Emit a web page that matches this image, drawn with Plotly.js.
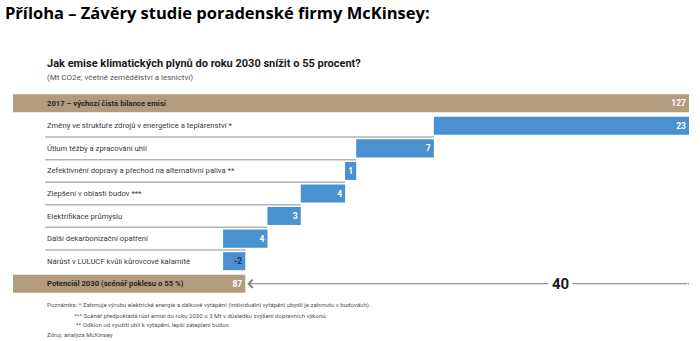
<!DOCTYPE html>
<html>
<head>
<meta charset="utf-8">
<script src="https://cdn.plot.ly/plotly-3.0.1.min.js"></script>
<style>
html,body{margin:0;padding:0;background:#fff;}
#chart{width:700px;height:341px;}
</style>
</head>
<body>
<div id="chart"></div>
<script>
// ---- data ----
const categories = [
  '2017 – výchozí čistá bilance emisí',
  'Změny ve struktuře zdrojů v energetice a teplárenství *',
  'Útlum těžby a zpracování uhlí',
  'Zefektivnění dopravy a přechod na alternativní paliva **',
  'Zlepšení v oblasti budov ***',
  'Elektrifikace průmyslu',
  'Další dekarbonizační opatření',
  'Nárůst v LULUCF kvůli kůrovcové kalamitě',
  'Potenciál 2030 (scénář poklesu o 55 %)'
];
const startValue = 127;
const stepValues = [23, 7, 1, 4, 3, 4, -2];
const endValue = 87;
const pageTitle = 'Příloha – Závěry studie poradenské firmy McKinsey:';
const chartTitle = 'Jak emise klimatických plynů do roku 2030 snížit o 55 procent?';
const chartSubtitle = '(Mt CO2e; včetně zemědělství a lesnictví)';
const footnotes = [
  'Poznámka: * Zahrnuje výrobu elektrické energie a dálkové vytápění (individuální vytápění obydlí je zahrnuto v budovách).',
  '*** Scénář předpokládá růst emisí do roku 2030 o 3 Mt v důsledku zvýšení dopravních výkonů.',
  '** Odklon od využití uhlí k vytápění, lepší zateplení budov.',
  'Zdroj: analýza McKinsey'
];

// ---- styles / layout helpers ----
const W = 700, H = 341;
const M = {l: 13, r: 11, t: 92, b: 46};
const plotW = W - M.l - M.r, plotH = H - M.t - M.b;
const px = x => (x - M.l) / plotW;
const py = y => (H - M.b - y) / plotH;
const xr = [66.06, 127];
const toData = p => xr[0] + p * (xr[1] - xr[0]);
const brown = '#b29c7e', blue = '#4a91d2';
const FONT = 'Roboto, Inter, sans-serif';
const labelX = px(45);

const n = categories.length;
let level = startValue;
const stepBase = [], stepLen = [], stepY = [];
stepValues.forEach((v, i) => {
  const next = level - v;
  stepBase.push(Math.min(level, next));
  stepLen.push(Math.abs(v));
  stepY.push(i + 1);
  level = next;
});

const totals = {
  type: 'bar', orientation: 'h',
  y: [0, n - 1], x: [startValue, endValue], base: [0, 0],
  width: 0.8,
  marker: {color: brown, line: {width: 0}},
  text: [String(startValue), String(endValue)],
  textposition: 'inside', insidetextanchor: 'end', constraintext: 'none',
  textfont: {family: FONT, size: 8.5, color: '#ffffff', weight: 700},
  hoverinfo: 'skip', showlegend: false
};
const steps = {
  type: 'bar', orientation: 'h',
  y: stepY, x: stepLen, base: stepBase,
  width: 0.8,
  marker: {color: blue, line: {width: 0}},
  text: stepValues.map(String),
  textposition: 'inside', insidetextanchor: 'end', constraintext: 'none',
  textfont: {family: FONT, size: 8.5, weight: 700,
    color: stepValues.map(v => v < 0 ? '#1c2b40' : '#ffffff')},
  hoverinfo: 'skip', showlegend: false
};

// separator lines under step rows
const shapes = [];
for (let i = 1; i < stepValues.length; i++) {
  const right = stepBase[i] + stepLen[i];
  shapes.push({type: 'line', xref: 'x', yref: 'y',
    x0: toData(labelX), x1: right, y0: i + 0.5, y1: i + 0.5,
    line: {color: '#b4b4b4', width: 1.5}, layer: 'below'});
}
// small end tick of the gap line
shapes.push({type: 'line', xref: 'x', yref: 'y', x0: startValue, x1: startValue,
  y0: n - 1 - 0.06, y1: n - 1 + 0.06, line: {color: '#7a7a7a', width: 1}});

const annotations = [];
categories.forEach((c, i) => {
  const isTotal = (i === 0 || i === n - 1);
  annotations.push({xref: 'paper', yref: 'y', x: labelX, y: i,
    xanchor: 'left', yanchor: 'middle', showarrow: false, text: c,
    font: {family: FONT, size: 7.7, color: isTotal ? '#2a2520' : '#3a3a3a', weight: isTotal ? 700 : 400}});
});
annotations.push({xref: 'paper', yref: 'paper', x: labelX, y: py(64),
  xanchor: 'left', yanchor: 'middle', showarrow: false, text: chartTitle,
  font: {family: FONT, size: 11, color: '#1a1a1a', weight: 700}});
annotations.push({xref: 'paper', yref: 'paper', x: labelX, y: py(77),
  xanchor: 'left', yanchor: 'middle', showarrow: false, text: chartSubtitle,
  font: {family: FONT, size: 8, color: '#555555'}});
const fnX = [45, 72, 74, 45], fnY = [305, 315, 324.5, 334];
footnotes.forEach((t, i) => {
  annotations.push({xref: 'paper', yref: 'paper', x: px(fnX[i]), y: py(fnY[i]),
    xanchor: 'left', yanchor: 'middle', showarrow: false, text: t,
    font: {family: FONT, size: 6.1, color: '#555555'}});
});
// gap arrow
annotations.push({xref: 'x', yref: 'y', x: endValue, y: n - 1,
  axref: 'x', ayref: 'y', ax: startValue, ay: n - 1, text: '',
  showarrow: true, arrowhead: 4, arrowsize: 1.6, arrowwidth: 1, arrowcolor: '#7a7a7a', standoff: 2});
annotations.push({xref: 'x', yref: 'y', x: endValue + 0.71 * (startValue - endValue), y: n - 1,
  xanchor: 'center', yanchor: 'middle', showarrow: false,
  text: String(startValue - endValue), bgcolor: '#ffffff', borderpad: 3,
  font: {family: FONT, size: 15, color: '#1a1a1a', weight: 700}});

const layout = {
  width: W, height: H,
  margin: M,
  paper_bgcolor: '#ffffff', plot_bgcolor: '#ffffff',
  title: {text: pageTitle, xref: 'container', yref: 'container', x: 5 / W, xanchor: 'left',
    y: 1 - 13 / H, yanchor: 'middle',
    font: {family: '"Open Sans", sans-serif', size: 16.5, color: '#000000', weight: 700}},
  xaxis: {range: xr, visible: false, fixedrange: true},
  yaxis: {range: [n - 0.5, -0.5], visible: false, fixedrange: true},
  barmode: 'overlay',
  bargap: 0.2,
  shapes: shapes,
  annotations: annotations,
  showlegend: false
};
Plotly.newPlot('chart', [totals, steps], layout, {staticPlot: true, displayModeBar: false});
</script>
</body>
</html>
